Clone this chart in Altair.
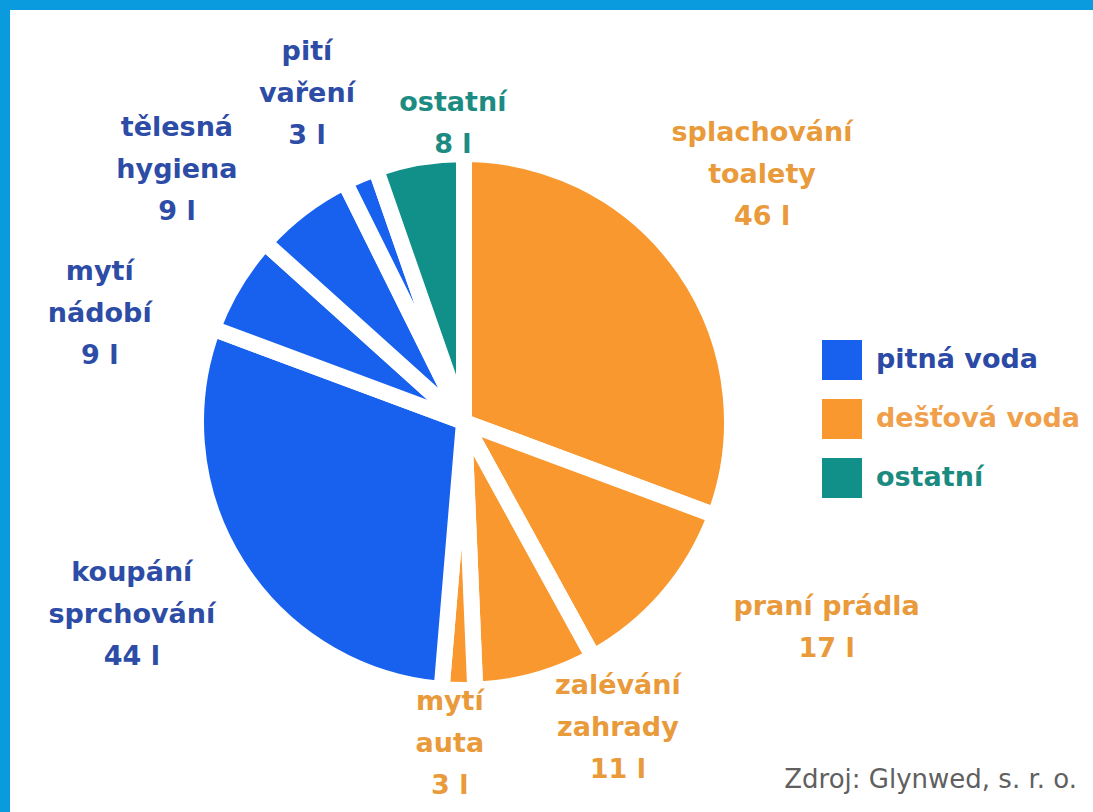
import math
import altair as alt
import pandas as pd

# ---------------- data (clockwise from 12 o'clock) ----------------
activities = ["splachování\ntoalety", "praní prádla", "zalévání\nzahrady", "mytí\nauta",
              "koupání\nsprchování", "mytí\nnádobí", "tělesná\nhygiena", "pití\nvaření", "ostatní"]
liters = [46, 17, 11, 3, 44, 9, 9, 3, 8]
water_source = ["dešťová voda", "dešťová voda", "dešťová voda", "dešťová voda",
                "pitná voda", "pitná voda", "pitná voda", "pitná voda", "ostatní"]
legend_groups = ["pitná voda", "dešťová voda", "ostatní"]
source_note = ["Zdroj: Glynwed, s. r. o."]

# ---------------- layout / style ----------------
# label placement (first line) around the pie: distance from centre (px), turn from slice middle (deg)
label_radius = [415, 407, 306, 280, 365, 394, 411, 402, 319]
label_turn = [-9.3, -13.8, -14.6, 1.7, 7.9, -8.8, -7.1, -0.2, 7.6]

slice_colors = ["#1861ef", "#f9982f", "#11908a"]
label_colors = ["#2d4ca6", "#e99a3a", "#1c8c82"]
legend_label_colors = ["#2b4aa6", "#f0a04b", "#1b8a80"]
frame_color = "#0a9ade"

CX, CY = 454, 412          # pie centre inside the plot area
GAP = 16                   # white gap between slices (px)
R = 260 + GAP / 2          # outer radius incl. half of the white gap stroke
total = sum(liters)

df = pd.DataFrame({
    "order": list(range(len(liters))),
    "activity": activities,
    "liters": liters,
    "source": water_source,
    "lr": label_radius,
    "turn": label_turn,
})
df["lines"] = [a.split("\n") + [f"{v} l"] for a, v in zip(activities, liters)]

base = alt.Chart(df).transform_window(
    cum="sum(liters)", sort=[alt.SortField("order")], frame=[None, 0]
).transform_calculate(
    start="datum.cum - datum.liters",
    label_theta=f"datum.cum - datum.liters / 2 + datum.turn * {total} / 360",
)

theta_scale = alt.Scale(domain=[0, total], range=[0, 2 * math.pi], nice=False)

label_color_expr = (
    f"datum.value == '{legend_groups[0]}' ? '{legend_label_colors[0]}' : "
    f"datum.value == '{legend_groups[1]}' ? '{legend_label_colors[1]}' : '{legend_label_colors[2]}'"
)

arcs = base.mark_arc(
    outerRadius=R, stroke="white", strokeWidth=GAP, strokeJoin="round"
).encode(
    theta=alt.Theta("start:Q", scale=theta_scale),
    theta2="cum:Q",
    color=alt.Color(
        "source:N",
        scale=alt.Scale(domain=legend_groups, range=slice_colors),
        legend=alt.Legend(
            title=None, orient="none", legendX=812, legendY=330,
            symbolType="square", symbolSize=1600, symbolStrokeWidth=0, symbolOpacity=1,
            labelFont="DejaVu Sans", labelFontSize=27, labelFontWeight="bold",
            labelOffset=14, rowPadding=19, padding=0, labelLimit=400,
            labelColor=alt.ExprRef(expr=label_color_expr),
        ),
    ),
    x=alt.value(CX),
    y=alt.value(CY),
)

labels = base.mark_text(
    font="DejaVu Sans", fontSize=27, fontWeight="bold", lineHeight=42,
    align="center", baseline="middle",
).encode(
    theta=alt.Theta("label_theta:Q", scale=theta_scale),
    radius=alt.Radius("lr:Q", scale=None),
    text=alt.Text("lines:N"),
    color=alt.Color("source:N", scale=alt.Scale(domain=legend_groups, range=label_colors), legend=None),
    x=alt.value(CX),
    y=alt.value(CY),
)

src = alt.Chart(pd.DataFrame({"note": source_note})).mark_text(
    font="DejaVu Sans", fontSize=26, color="#606060", align="right", baseline="middle"
).encode(text="note:N", x=alt.value(1067), y=alt.value(770))

chart = alt.layer(arcs, labels, src).resolve_scale(color="independent").properties(
    width=1083, height=802,
    padding={"left": 10, "top": 10, "right": 0, "bottom": 0},
    autosize=alt.AutoSizeParams(type="none"),
    background=frame_color,
).configure_view(fill="white", strokeWidth=0)

chart.save("out.html", embed_options={"renderer": "svg", "actions": False})
